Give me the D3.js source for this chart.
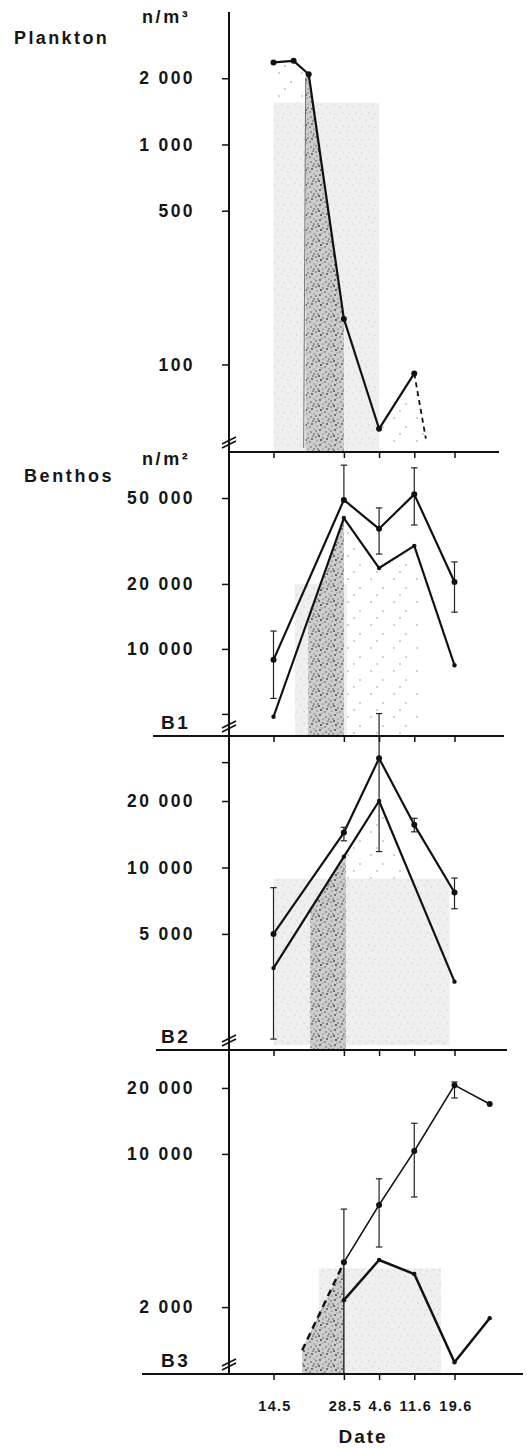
<!DOCTYPE html>
<html>
<head>
<meta charset="utf-8">
<script src="https://cdn.jsdelivr.net/npm/d3@7"></script>
<style>
  body { margin: 0; background: #fff; }
  text { font-family: "Liberation Sans", Arial, sans-serif; font-weight: bold; fill: #161616; }
</style>
</head>
<body>
<svg id="chart" width="527" height="1449"></svg>
<script>
// day of the season (fractional days allowed)
const day = (m, d) => new Date(Date.UTC(1980, m - 1, 1) + (d - 1) * 864e5);

// x axis
const dateTicks = [day(5, 14), day(5, 28), day(6, 4), day(6, 11), day(6, 19)];
const dateLabels = ['14.5', '28.5', '4.6', '11.6', '19.6'];

// plankton, n/m3
const planktonTicks = [2000, 1000, 500, 100];
const planktonDates = [day(5, 14), day(5, 18), day(5, 21), day(5, 28), day(6, 4), day(6, 11)];
const planktonValues = [2360, 2400, 2085, 161, 51, 91];
const planktonTailDates = [day(6, 11), day(6, 13.3)];
const planktonTailValues = [91, 46];

// benthos B1, n/m2
const b1Ticks = [50000, 20000, 10000];
const b1Minor = [5000];
const b1Dates = [day(5, 14), day(5, 28), day(6, 4), day(6, 11), day(6, 19)];
const b1Upper = [8900, 49000, 36000, 52000, 20400];
const b1UpperHi = [12100, 71000, 45000, 69000, 25300];
const b1UpperLo = [5900, null, 27500, 37500, 14800];
const b1Lower = [4850, 40400, 23700, 30000, 8400];

// benthos B2
const b2Ticks = [20000, 10000, 5000];
const b2Minor = [30000];
const b2Dates = [day(5, 14), day(5, 28), day(6, 4), day(6, 11), day(6, 19)];
const b2Upper = [5000, 14400, 31200, 15600, 7700];
const b2UpperHi = [8100, 15200, 49800, 16700, 8950];
const b2UpperLo = [1670, 13200, 11800, 14500, 6500];
const b2LowerDates = [day(5, 14), day(5, 28), day(6, 4), day(6, 19)];
const b2Lower = [3500, 11200, 20000, 3040];

// benthos B3
const b3Ticks = [20000, 10000, 2000];
const b3Dates = [day(5, 28), day(6, 4), day(6, 11), day(6, 19), day(6, 26)];
const b3Upper = [3200, 5850, 10300, 20600, 16900];
const b3UpperHi = [5600, 7700, 13800, 21300, null];
const b3UpperLo = [null, 3760, 6360, 18000, null];
const b3Lower = [2150, 3280, 2830, 1120, 1780];
const b3DashDates = [day(5, 19.7), day(5, 28)];
const b3DashValues = [1270, 3200];

// shaded periods: [from, to, top value]
const planktonBox = [day(5, 14), day(6, 4), 1550];
const planktonDark = [day(5, 20.4), day(5, 28)];
const b1Box = [day(5, 18.3), day(5, 28.6), 20000];
const b1Dark = [day(5, 20.9), day(5, 28)];
const b2Box = [day(5, 14), day(6, 18), 8900];
const b2Dark = [day(5, 21.3), day(5, 28.4)];
const b3Box = [day(5, 23), day(6, 16.3), 3010];
const b3Dark = [day(5, 19.7), day(5, 28)];

const svg = d3.select('#chart');
const AX = 229;
const x = d3.scaleUtc().domain([day(5, 14), day(6, 19)]).range([273.5, 454.5]);

const panels = [
  { top: 12,   bottom: 452,  domain: [40, 4000],     ticks: planktonTicks, minor: [], base: [228, 499], label: null },
  { top: 452,  bottom: 736,  domain: [3950, 81700],  ticks: b1Ticks, minor: b1Minor, base: [153, 504], label: 'B1' },
  { top: 736,  bottom: 1050, domain: [1490, 39400],  ticks: b2Ticks, minor: b2Minor, base: [156, 507], label: 'B2' },
  { top: 1050, bottom: 1374, domain: [990, 29800],   ticks: b3Ticks, minor: [], base: [142, 523], label: 'B3' }
];
panels.forEach(p => { p.y = d3.scaleLog().domain(p.domain).range([p.bottom, p.top]); });

// stipple textures
const defs = svg.append('defs');
function stipple(id, size, bg, col, r, dots) {
  const pat = defs.append('pattern').attr('id', id)
    .attr('patternUnits', 'userSpaceOnUse').attr('width', size).attr('height', size);
  if (bg) pat.append('rect').attr('width', size).attr('height', size).attr('fill', bg);
  dots.forEach(([cx, cy, k]) => pat.append('circle').attr('cx', cx).attr('cy', cy)
    .attr('r', r * (k || 1)).attr('fill', col));
}
stipple('dark', 15, '#cdcdcd', '#474747', 0.75,
  [[1, 2], [4, 1, 1.3], [8, 3], [13, 1], [2, 6, 0.8], [6, 5, 1.4], [10, 7], [14, 9, 0.8], [1, 11],
   [5, 10, 1.2], [11, 12], [8, 14, 0.8], [3, 14], [12, 4, 1.2], [7, 8, 0.7], [14, 14]]);
stipple('light', 13, '#efefef', '#b8b8b8', 0.6, [[2, 3], [9, 1], [5, 9], [11, 10]]);
stipple('sparse', 23, null, '#808080', 0.7, [[3, 4], [15, 13], [9, 20]]);

const pix = (dates, values, y) => dates.map((d, i) => [x(d), y(values[i])]);
function yAt(pts, px) {
  for (let i = 0; i < pts.length - 1; i++) {
    const a = pts[i], b = pts[i + 1];
    if (px >= a[0] && px <= b[0]) return a[1] + (px - a[0]) / (b[0] - a[0]) * (b[1] - a[1]);
  }
  return px < pts[0][0] ? pts[0][1] : pts[pts.length - 1][1];
}
function under(pts, d0, d1, yb) {
  const x0 = x(d0), x1 = x(d1);
  const inner = pts.filter(q => q[0] > x0 && q[0] < x1);
  return [[x0, yAt(pts, x0)], ...inner, [x1, yAt(pts, x1)], [x1, yb], [x0, yb]];
}
const shade = (poly, fill) => svg.append('path').attr('d', d3.line()(poly) + 'Z').attr('fill', fill);
const boxPoly = (b, p) => [[x(b[0]), p.y(b[2])], [x(b[1]), p.y(b[2])], [x(b[1]), p.bottom], [x(b[0]), p.bottom]];

// ---- shading
const [P, B1, B2, B3] = panels;
const plk = pix(planktonDates, planktonValues, P.y);
const plkTail = pix(planktonTailDates, planktonTailValues, P.y);
shade(boxPoly(planktonBox, P), 'url(#light)');
shade(under(plk, day(5, 14.2), planktonDark[0], P.y(1550)), 'url(#sparse)');
shade(under(plk, planktonDark[0], planktonDark[1], P.bottom), 'url(#dark)');
shade([plk[4], plk[5], plkTail[1], [plkTail[1][0], P.y(44)], [plk[4][0], P.y(44)]], 'url(#sparse)');
svg.append('line').attr('x1', x(planktonDark[0])).attr('x2', x(planktonDark[0]) - 2)
  .attr('y1', yAt(plk, x(planktonDark[0])) + 6).attr('y2', P.bottom - 4)
  .attr('stroke', '#555').attr('stroke-width', 0.8);

const b1Lo = pix(b1Dates, b1Lower, B1.y);
shade(boxPoly(b1Box, B1), 'url(#light)');
shade(under(b1Lo, day(5, 28), day(6, 12), B1.bottom), 'url(#sparse)');
shade(under(b1Lo, b1Dark[0], b1Dark[1], B1.bottom), 'url(#dark)');

const b2Lo = pix(b2LowerDates, b2Lower, B2.y);
shade(under(b2Lo, day(5, 20), day(6, 18), B2.bottom - 4), 'url(#sparse)');
shade(boxPoly(b2Box, B2).map((q, i) => i > 1 ? [q[0], q[1] - 5] : q), 'url(#light)');
shade(under(b2Lo, b2Dark[0], b2Dark[1], B2.bottom), 'url(#dark)');

const b3Dash = pix(b3DashDates, b3DashValues, B3.y);
shade(boxPoly(b3Box, B3), 'url(#light)');
shade(under(b3Dash, b3Dark[0], b3Dark[1], B3.bottom), 'url(#dark)');
svg.append('line').attr('x1', x(b3Dark[1])).attr('x2', x(b3Dark[1]))
  .attr('y1', B3.y(b3Upper[0])).attr('y2', B3.bottom)
  .attr('stroke', '#111').attr('stroke-width', 1.3);

// ---- series
function series(dates, values, y, opt) {
  const pts = pix(dates, values, y);
  svg.append('path').attr('d', d3.line()(pts)).attr('fill', 'none')
    .attr('stroke', '#111').attr('stroke-width', opt.w || 2.2)
    .attr('stroke-linejoin', 'round').attr('stroke-dasharray', opt.dash || null);
  if (opt.hi) {
    dates.forEach((d, i) => {
      [opt.hi[i], opt.lo[i]].forEach(v => {
        if (v == null) return;
        const cx = x(d);
        svg.append('line').attr('x1', cx).attr('x2', cx).attr('y1', y(values[i])).attr('y2', y(v))
          .attr('stroke', '#222').attr('stroke-width', 1.2);
        svg.append('line').attr('x1', cx - 3.2).attr('x2', cx + 3.2).attr('y1', y(v)).attr('y2', y(v))
          .attr('stroke', '#222').attr('stroke-width', 1.2);
      });
    });
  }
  if (opt.r) {
    svg.selectAll(null).data(pts).join('circle')
      .attr('cx', q => q[0]).attr('cy', q => q[1]).attr('r', opt.r).attr('fill', '#111');
  }
}
series(planktonDates, planktonValues, P.y, { r: 3 });
series(planktonTailDates, planktonTailValues, P.y, { dash: '5 4', w: 1.8 });
series(b1Dates, b1Upper, B1.y, { r: 3, hi: b1UpperHi, lo: b1UpperLo });
series(b1Dates, b1Lower, B1.y, { r: 2.2 });
series(b2Dates, b2Upper, B2.y, { r: 3, hi: b2UpperHi, lo: b2UpperLo });
series(b2LowerDates, b2Lower, B2.y, { r: 2.2 });
series(b3Dates, b3Upper, B3.y, { r: 3, hi: b3UpperHi, lo: b3UpperLo, w: 1.6 });
series(b3Dates, b3Lower, B3.y, { r: 2.2, w: 2.5 });
series(b3DashDates, b3DashValues, B3.y, { dash: '7 5', w: 2.4 });

// ---- axes
const fmt = v => d3.format(',')(v).replace(',', ' ');
svg.append('line').attr('x1', AX).attr('x2', AX).attr('y1', P.top).attr('y2', B3.bottom)
  .attr('stroke', '#111').attr('stroke-width', 2);

panels.forEach((p, k) => {
  const g = svg.append('g').attr('transform', `translate(${AX},0)`)
    .call(d3.axisLeft(p.y).tickValues(p.ticks.concat(p.minor)).tickSize(7).tickPadding(27)
      .tickFormat(v => p.ticks.includes(v) ? fmt(v) : ''));
  g.select('.domain').remove();
  g.selectAll('.tick line').attr('stroke', '#111').attr('stroke-width', 1.5);
  g.selectAll('.tick text').attr('font-size', 17.5).style('letter-spacing', '2.4px')
    .attr('fill', '#161616').attr('font-family', null);

  // baseline with date ticks
  svg.append('line').attr('x1', p.base[0]).attr('x2', p.base[1]).attr('y1', p.bottom).attr('y2', p.bottom)
    .attr('stroke', '#111').attr('stroke-width', 2);
  const xa = svg.append('g').attr('transform', `translate(0,${p.bottom})`)
    .call(d3.axisBottom(x).tickValues(dateTicks).tickSize(6).tickPadding(21)
      .tickFormat((d, i) => k === 3 ? dateLabels[i] : ''));
  xa.select('.domain').remove();
  xa.selectAll('.tick line').attr('stroke', '#111').attr('stroke-width', 1.5);
  xa.selectAll('.tick text').attr('font-size', 14.5).style('letter-spacing', '1.3px')
    .attr('fill', '#161616').attr('font-family', null).attr('dx', 1);

  // axis break
  [0, 4].forEach(o => svg.append('line')
    .attr('x1', AX - 7).attr('y1', p.bottom - 4 - o).attr('x2', AX + 7).attr('y2', p.bottom - 11 - o)
    .attr('stroke', '#111').attr('stroke-width', 1.8));

  if (p.label) svg.append('text').attr('x', 161).attr('y', p.bottom - 7)
    .attr('font-size', 19).style('letter-spacing', '2.5px').text(p.label);
});

// ---- titles
svg.append('text').attr('x', 14).attr('y', 44).attr('font-size', 18).style('letter-spacing', '2.4px').text('Plankton');
svg.append('text').attr('x', 142).attr('y', 23).attr('font-size', 18).style('letter-spacing', '2.6px').text('n/m³');
svg.append('text').attr('x', 24).attr('y', 482).attr('font-size', 18).style('letter-spacing', '2.6px').text('Benthos');
svg.append('text').attr('x', 142).attr('y', 465).attr('font-size', 18).style('letter-spacing', '2.6px').text('n/m²');
svg.append('text').attr('x', 363).attr('y', 1443).attr('text-anchor', 'middle')
  .attr('font-size', 19).style('letter-spacing', '2px').text('Date');
</script>
</body>
</html>
